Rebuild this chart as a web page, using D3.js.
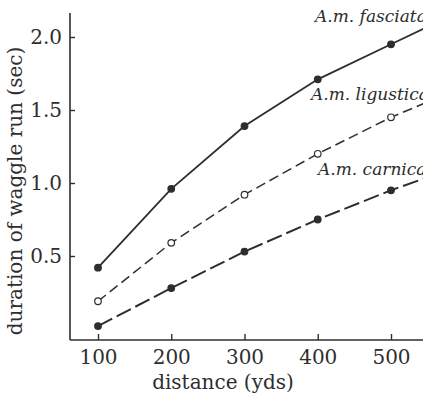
<!DOCTYPE html>
<html>
<head>
<meta charset="utf-8">
<script src="https://cdn.jsdelivr.net/npm/d3@7"></script>
<style>
  html, body { margin: 0; padding: 0; background: #fff; }
  svg { display: block; font-family: "DejaVu Serif", serif; }
</style>
</head>
<body>
<svg id="chart" width="423" height="395"></svg>
<script>
// distances (yds) and waggle run durations (sec)
const distances = [100, 200, 300, 400, 500, 600];
const fasciata  = [0.42, 0.96, 1.39, 1.71, 1.95, 2.19];
const ligustica = [0.19, 0.59, 0.92, 1.20, 1.45, 1.66];
const carnica   = [0.02, 0.28, 0.53, 0.75, 0.95, 1.13];

const xTicks = [100, 200, 300, 400, 500];
const yTicks = [0.5, 1.0, 1.5, 2.0];

const series = [
  { name: "A.m. fasciata",  values: fasciata,  open: false, dash: null,   width: 1.8 },
  { name: "A.m. ligustica", values: ligustica, open: true,  dash: "10,5", width: 1.5 },
  { name: "A.m. carnica",   values: carnica,   open: false, dash: "16,5", width: 2   }
];

const svg = d3.select("#chart");
const W = 423;
const ink = "#2e2e2e";

// scales
const x = d3.scaleLinear().domain([100, 500]).range([98, 391]);
const y = d3.scaleLinear().domain([0.5, 2.0]).range([256, 37]);

const mLeft = 70, mBottom = 340, mTop = 13;

// y axis
const yAxis = svg.append("g")
  .attr("transform", `translate(${mLeft},0)`)
  .call(d3.axisLeft(y).tickValues(yTicks).tickFormat(d3.format(".1f")).tickSizeInner(-5).tickSizeOuter(0).tickPadding(8));
yAxis.select(".domain").remove();
yAxis.append("line")
  .attr("x1", 0).attr("x2", 0).attr("y1", mTop).attr("y2", mBottom)
  .attr("stroke", ink).attr("stroke-width", 1.6);

// x axis
const xAxis = svg.append("g")
  .attr("transform", `translate(0,${mBottom})`)
  .call(d3.axisBottom(x).tickValues(xTicks).tickFormat(d3.format("d")).tickSizeInner(-6).tickSizeOuter(0).tickPadding(10));
xAxis.select(".domain").remove();
xAxis.append("line")
  .attr("x1", mLeft).attr("x2", W).attr("y1", 0).attr("y2", 0)
  .attr("stroke", ink).attr("stroke-width", 1.6);

svg.selectAll(".tick line").attr("stroke", ink).attr("stroke-width", 1.4);
svg.selectAll(".tick text")
  .attr("fill", ink)
  .style("font-family", "DejaVu Serif, serif")
  .style("font-size", "20px");

// axis titles
svg.append("text")
  .attr("x", 223).attr("y", 389)
  .attr("text-anchor", "middle")
  .attr("fill", ink)
  .style("font-size", "20px")
  .text("distance (yds)");

svg.append("text")
  .attr("transform", "translate(22,191) rotate(-90)")
  .attr("text-anchor", "middle")
  .attr("fill", ink)
  .style("font-size", "20px")
  .text("duration of waggle run (sec)");

// lines
const line = d3.line()
  .x((d, i) => x(distances[i]))
  .y(d => y(d));

const plot = svg.append("g");

series.forEach(s => {
  plot.append("path")
    .datum(s.values)
    .attr("d", line)
    .attr("fill", "none")
    .attr("stroke", ink)
    .attr("stroke-width", s.width)
    .attr("stroke-dasharray", s.dash);

  plot.selectAll(null)
    .data(s.values)
    .enter().append("circle")
      .attr("cx", (d, i) => x(distances[i]))
      .attr("cy", d => y(d))
      .attr("r", 3.3)
      .attr("fill", s.open ? "#fff" : ink)
      .attr("stroke", ink)
      .attr("stroke-width", 1.2);
});

// series labels
const labelPos = [[315, 22], [311, 100], [318, 175]];
series.forEach((s, i) => {
  svg.append("text")
    .attr("x", labelPos[i][0]).attr("y", labelPos[i][1])
    .attr("fill", ink)
    .style("font-style", "italic")
    .style("font-size", "17px")
    .text(s.name);
});
</script>
</body>
</html>
